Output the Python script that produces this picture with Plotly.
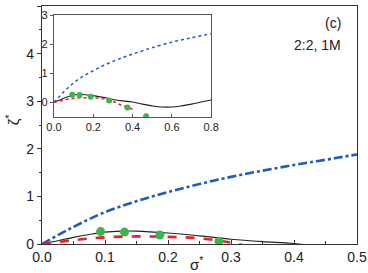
import plotly.graph_objects as go

# --- data ---
sig_black = [0, 0.025, 0.05, 0.075, 0.1, 0.125, 0.15, 0.2, 0.25, 0.3, 0.35, 0.4,
             0.45, 0.5, 0.55, 0.6, 0.65, 0.7, 0.75, 0.8]
zeta_black = [0, 0.07, 0.14, 0.2, 0.25, 0.27, 0.27, 0.23, 0.17, 0.1, 0.05, 0.01,
              -0.06, -0.12, -0.16, -0.16, -0.12, -0.06, 0.01, 0.08]

sig_red = [0, 0.05, 0.1, 0.15, 0.2, 0.25, 0.3, 0.35, 0.4]
zeta_red = [0, 0.08, 0.14, 0.16, 0.15, 0.12, 0.03, -0.12, -0.23]

sig_blue = [0, 0.05, 0.1, 0.15, 0.2, 0.25, 0.3, 0.35, 0.4, 0.45, 0.5, 0.6, 0.7, 0.8]
zeta_blue = [0, 0.36, 0.67, 0.9, 1.09, 1.26, 1.41, 1.54, 1.66, 1.77, 1.88, 2.07, 2.22, 2.36]

sig_pts = [0.093, 0.131, 0.187, 0.281, 0.374, 0.469]
zeta_pts = [0.26, 0.25, 0.19, 0.06, -0.18, -0.48]

BLUE = '#1a5cc0'
RED = '#e8202a'
GREEN = '#3db54a'

fig = go.Figure()

# main panel
fig.add_trace(go.Scatter(x=sig_blue, y=zeta_blue, mode='lines', line=dict(color=BLUE, width=2.6, dash='dashdot', shape='spline'), xaxis='x', yaxis='y'))
fig.add_trace(go.Scatter(x=sig_black, y=zeta_black, mode='lines', line=dict(color='#222', width=1.1, shape='spline'), xaxis='x', yaxis='y'))
fig.add_trace(go.Scatter(x=sig_red, y=zeta_red, mode='lines', line=dict(color=RED, width=2.6, dash='dash', shape='spline'), xaxis='x', yaxis='y'))
fig.add_trace(go.Scatter(x=sig_pts, y=zeta_pts, mode='markers', marker=dict(color=GREEN, size=9), xaxis='x', yaxis='y'))

# inset
fig.add_trace(go.Scatter(x=sig_blue, y=zeta_blue, mode='lines', line=dict(color=BLUE, width=1.5, dash='dot', shape='spline'), xaxis='x2', yaxis='y2'))
fig.add_trace(go.Scatter(x=sig_black, y=zeta_black, mode='lines', line=dict(color='#222', width=1.1, shape='spline'), xaxis='x2', yaxis='y2'))
fig.add_trace(go.Scatter(x=sig_red, y=zeta_red, mode='lines', line=dict(color=RED, width=1.5, dash='dot', shape='spline'), xaxis='x2', yaxis='y2'))
fig.add_trace(go.Scatter(x=sig_pts, y=zeta_pts, mode='markers', marker=dict(color=GREEN, size=6), xaxis='x2', yaxis='y2'))

font = dict(family='Liberation Sans, Arial, sans-serif', color='#222')

fig.update_layout(
    width=368, height=273,
    margin=dict(l=42, r=11, t=6, b=29, autoexpand=False),
    paper_bgcolor='white', plot_bgcolor='white',
    showlegend=False,
    font=font,
    xaxis=dict(domain=[0, 1], range=[0, 0.5], dtick=0.1, tickformat='.1f', automargin=False,
               showgrid=False, zeroline=False, showline=True, linecolor='#333', linewidth=1.2, mirror=True,
               ticks='inside', ticklen=4, tickcolor='#333',
               minor=dict(dtick=0.05, ticks='inside', ticklen=3, tickcolor='#333'),
               tickfont=dict(size=14)),
    yaxis=dict(domain=[0, 1], range=[0, 5], dtick=1, automargin=False,
               showgrid=False, zeroline=False, showline=True, linecolor='#333', linewidth=1.2, mirror=True,
               ticks='outside', ticklen=4, tickcolor='#333',
               minor=dict(dtick=0.5, ticks='outside', ticklen=2, tickcolor='#333'),
               tickfont=dict(size=14)),
    xaxis2=dict(domain=[0.038, 0.537], anchor='y2', range=[0, 0.8], dtick=0.2, tickformat='.1f', automargin=False,
                showgrid=False, zeroline=False, showline=True, linecolor='#555', linewidth=1.2, mirror=True,
                ticks='inside', ticklen=3, tickcolor='#555',
                tickfont=dict(size=11)),
    yaxis2=dict(domain=[0.534, 0.962], anchor='x2', range=[-0.5, 3], dtick=1, automargin=False,
                showgrid=False, zeroline=False, showline=True, linecolor='#555', linewidth=1.2, mirror=True,
                ticks='outside', ticklen=3, tickcolor='#555',
                tickfont=dict(size=11)),
    annotations=[
        dict(text='(c)', xref='paper', yref='paper', x=0.955, y=0.93, xanchor='right', yanchor='middle',
             showarrow=False, font=dict(size=14)),
        dict(text='2:2, 1M', xref='paper', yref='paper', x=0.955, y=0.838, xanchor='right', yanchor='middle',
             showarrow=False, font=dict(size=14)),
        dict(text='σ<sup>*</sup>', xref='paper', yref='paper', x=0.49, y=-0.082, xanchor='center', yanchor='middle',
             showarrow=False, font=dict(size=15)),
        dict(text='ζ<sup>*</sup>', xref='paper', yref='paper', x=-0.095, y=0.52, xanchor='center', yanchor='middle',
             textangle=-90, showarrow=False, font=dict(size=15)),
    ],
)

fig.write_html('out.html', config={'displayModeBar': False},
               post_script="document.body.style.margin='0px';document.body.style.overflow='hidden';")
